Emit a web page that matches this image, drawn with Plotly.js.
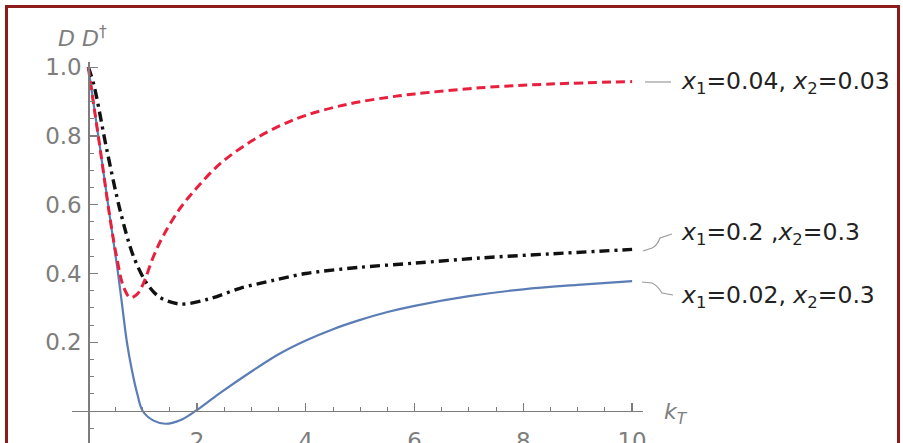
<!DOCTYPE html>
<html>
<head>
<meta charset="utf-8">
<script src="https://cdn.plot.ly/plotly-3.0.1.min.js"></script>
<style>
  html, body { margin: 0; padding: 0; background: #ffffff; }
  #wrap { position: relative; width: 903px; height: 443px; overflow: hidden; }
  #chart { position: absolute; left: 0; top: 0; width: 903px; height: 443px; }
  #frame { position: absolute; left: 5px; top: 5px; width: 889px; height: 460px;
           border-top: 3px solid #8e1b1b; border-left: 3px solid #8e1b1b; border-right: 3px solid #8e1b1b;
           pointer-events: none; }
</style>
</head>
<body>
<div id="wrap">
  <div id="chart"></div>
  <div id="frame"></div>
</div>
<script>
// ---- data ----
const redX   = [0, 0.1, 0.22, 0.4, 0.53, 0.65, 0.77, 0.9, 1.01, 1.2, 1.38, 1.69, 2.0, 2.43, 3.0, 3.53, 4.0, 4.76, 5.5, 6.0, 7.2, 8.5, 10];
const redY   = [1.0, 0.89, 0.76, 0.56, 0.44, 0.36, 0.33, 0.34, 0.37, 0.45, 0.51, 0.59, 0.65, 0.72, 0.785, 0.83, 0.86, 0.892, 0.912, 0.922, 0.94, 0.951, 0.958];

const blackX = [0, 0.1, 0.34, 0.59, 0.83, 1.08, 1.32, 1.69, 2.2, 2.79, 3.4, 4.0, 5.0, 6.0, 7.2, 8.5, 10];
const blackY = [1.0, 0.95, 0.76, 0.58, 0.45, 0.37, 0.33, 0.311, 0.325, 0.357, 0.38, 0.40, 0.418, 0.43, 0.445, 0.457, 0.47];

const blueX  = [0, 0.1, 0.22, 0.4, 0.53, 0.62, 0.71, 0.8, 0.9, 1.0, 1.2, 1.42, 1.7, 1.97, 2.4, 3.0, 3.5, 4.0, 4.5, 5.0, 5.5, 6.0, 7.0, 8.0, 9.0, 10];
const blueY  = [1.0, 0.89, 0.76, 0.56, 0.42, 0.31, 0.2, 0.12, 0.05, 0.0, -0.028, -0.037, -0.026, 0.0, 0.05, 0.115, 0.165, 0.205, 0.238, 0.265, 0.288, 0.306, 0.334, 0.354, 0.367, 0.378];

const xTickVals = [2, 4, 6, 8, 10];
const xTickText = ["2", "4", "6", "8", "10"];
const yTickVals = [0.2, 0.4, 0.6, 0.8, 1.0];
const yTickText = ["0.2", "0.4", "0.6", "0.8", "1.0"];

const labelRed   = "<i>x</i><sub>1</sub>=0.04, <i>x</i><sub>2</sub>=0.03";
const labelBlack = "<i>x</i><sub>1</sub>=0.2 ,<i>x</i><sub>2</sub>=0.3";
const labelBlue  = "<i>x</i><sub>1</sub>=0.02, <i>x</i><sub>2</sub>=0.3";
const labelYs    = [0.956, 0.515, 0.334];

// ---- layout helpers ----
const L = 72, R = 260, T = 62, B = 0, W = 903, H = 443;
const pw = W - L - R, ph = H - T - B;
const px = v => (v - L) / pw;          // pixel x -> paper x
const py = v => (H - B - v) / ph;      // pixel y -> paper y
const FONT = "DejaVu Sans, Liberation Sans, Arial, sans-serif";
const axisGray = "#7d7d7d";

const traces = [
  { x: blueX, y: blueY, type: "scatter", mode: "lines", name: "blue",
    line: { color: "#5b7db6", width: 2.2, shape: "spline", smoothing: 1 } },
  { x: blackX, y: blackY, type: "scatter", mode: "lines", name: "black",
    line: { color: "#111111", width: 3.4, dash: "10px,5px,3px,5px", shape: "spline", smoothing: 0.9 } },
  { x: redX, y: redY, type: "scatter", mode: "lines", name: "red",
    line: { color: "#e8203e", width: 3, dash: "9px,5px", shape: "spline", smoothing: 1 } }
];

const layout = {
  width: W, height: H,
  margin: { l: L, r: R, t: T, b: B, pad: 0 },
  paper_bgcolor: "#ffffff", plot_bgcolor: "#ffffff",
  showlegend: false,
  font: { family: FONT, color: axisGray },
  xaxis: {
    range: [-0.3, 10.2], anchor: "free", position: 0.0839, automargin: false,
    showgrid: false, zeroline: false, showline: true, linecolor: axisGray, linewidth: 1.3,
    tickmode: "array", tickvals: xTickVals, ticktext: xTickText,
    ticks: "inside", ticklen: 8, tickwidth: 1.3, tickcolor: axisGray,
    ticklabelstandoff: 9,
    tickfont: { family: FONT, size: 23, color: axisGray },
    minor: { tickmode: "linear", tick0: 0, dtick: 0.5, ticks: "inside", ticklen: 4, tickwidth: 1, tickcolor: axisGray, showgrid: false }
  },
  yaxis: {
    range: [-0.093, 1.015], anchor: "free", position: 0.02857, automargin: false,
    showgrid: false, zeroline: false, showline: true, linecolor: axisGray, linewidth: 1.3,
    tickmode: "array", tickvals: yTickVals, ticktext: yTickText,
    ticks: "inside", ticklen: 8, tickwidth: 1.3, tickcolor: axisGray,
    ticklabelstandoff: 2,
    tickfont: { family: FONT, size: 23, color: axisGray },
    minor: { tickmode: "linear", tick0: 0, dtick: 0.05, ticks: "inside", ticklen: 4, tickwidth: 1, tickcolor: axisGray, showgrid: false }
  },
  annotations: [
    { xref: "paper", yref: "paper", x: px(82), y: py(37), xanchor: "center", yanchor: "middle",
      text: "<i>D D</i><sup>†</sup>", showarrow: false, font: { family: FONT, size: 22, color: axisGray } },
    { xref: "paper", yref: "paper", x: px(662), y: py(413), xanchor: "left", yanchor: "middle",
      text: "<i>k</i><sub><i>T</i></sub>", showarrow: false, font: { family: FONT, size: 22, color: axisGray } },
    { xref: "paper", yref: "y", x: px(679), y: labelYs[0], xanchor: "left", yanchor: "middle",
      text: labelRed, showarrow: false, font: { family: FONT, size: 23.5, color: "#222222" } },
    { xref: "paper", yref: "y", x: px(679), y: labelYs[1], xanchor: "left", yanchor: "middle",
      text: labelBlack, showarrow: false, font: { family: FONT, size: 23.5, color: "#222222" } },
    { xref: "paper", yref: "y", x: px(679), y: labelYs[2], xanchor: "left", yanchor: "middle",
      text: labelBlue, showarrow: false, font: { family: FONT, size: 23.5, color: "#222222" } }
  ],
  shapes: [
    { type: "line", xref: "paper", yref: "paper", x0: px(645), y0: py(82), x1: px(671), y1: py(82),
      line: { color: "#9a9a9a", width: 1.2 } },
    { type: "path", xref: "paper", yref: "paper",
      path: `M ${px(643)} ${py(251)} L ${px(652)} ${py(248)} Q ${px(657)} ${py(246)} ${px(660)} ${py(238)} L ${px(672)} ${py(234)}`,
      line: { color: "#9a9a9a", width: 1.2 } },
    { type: "path", xref: "paper", yref: "paper",
      path: `M ${px(642)} ${py(282)} L ${px(652)} ${py(283)} Q ${px(657)} ${py(285)} ${px(662)} ${py(293)} L ${px(673)} ${py(295)}`,
      line: { color: "#9a9a9a", width: 1.2 } }
  ]
};

Plotly.newPlot("chart", traces, layout, { staticPlot: true, displayModeBar: false });
</script>
</body>
</html>
